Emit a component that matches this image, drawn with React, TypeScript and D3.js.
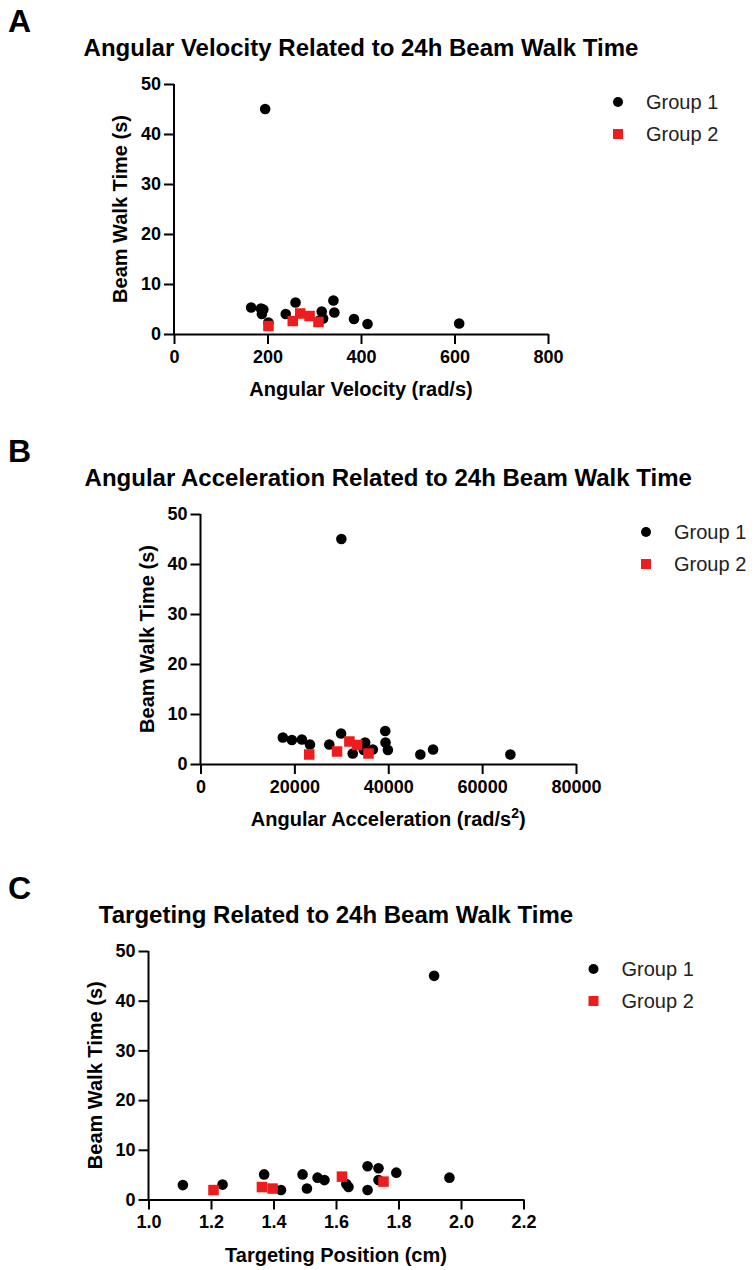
import React, { useEffect, useRef } from "react";
import * as d3 from "d3";

// ---------- data ----------
const seriesNames = ["Group 1", "Group 2"];
const yTicks = [0, 10, 20, 30, 40, 50];

// Panel A: Angular Velocity
const velTicks = [0, 200, 400, 600, 800];
const velGroup1X = [165, 186, 191, 188, 202, 239, 260, 316, 319, 311, 341, 343, 385, 414, 610, 195];
const velGroup1Y = [5.3, 5.1, 4.9, 4.0, 2.3, 4.0, 6.3, 4.5, 3.1, 2.7, 6.7, 4.3, 3.0, 2.0, 2.1, 45];
const velGroup2X = [202, 254, 270, 290, 309];
const velGroup2Y = [1.6, 2.6, 4.1, 3.6, 2.4];

// Panel B: Angular Acceleration
const accTicks = [0, 20000, 40000, 60000, 80000];
const accGroup1X = [17540, 19470, 21600, 23320, 27440, 29950, 32430, 35080, 34790, 36710, 39360, 39420, 39920, 46840, 49550, 66020, 30010];
const accGroup1Y = [5.3, 4.8, 4.9, 3.9, 3.9, 6.1, 2.1, 4.3, 2.8, 2.9, 6.6, 4.3, 2.8, 1.9, 2.9, 1.9, 45];
const accGroup2X = [23170, 29090, 31720, 33370, 35790];
const accGroup2Y = [1.9, 2.5, 4.5, 3.8, 2.1];

// Panel C: Targeting Position
const posTicks = [1.0, 1.2, 1.4, 1.6, 1.8, 2.0, 2.2];
const posGroup1X = [1.11, 1.237, 1.37, 1.424, 1.493, 1.507, 1.541, 1.563, 1.633, 1.64, 1.701, 1.701, 1.736, 1.736, 1.793, 1.963, 1.914];
const posGroup1Y = [2.9, 3.0, 5.05, 1.9, 5.05, 2.2, 4.4, 3.9, 3.1, 2.5, 6.7, 1.9, 6.3, 3.9, 5.4, 4.4, 45];
const posGroup2X = [1.208, 1.363, 1.397, 1.619, 1.752];
const posGroup2Y = [1.9, 2.5, 2.2, 4.6, 3.6];

const panels = [
  {
    letter: "A",
    title: "Angular Velocity Related to 24h Beam Walk Time",
    xLabel: "Angular Velocity (rad/s)",
    xTicks: velTicks,
    fmt: (d: number) => String(d),
    g1x: velGroup1X, g1y: velGroup1Y, g2x: velGroup2X, g2y: velGroup2Y,
    left: 174, right: 548, top: 84, bottom: 334,
  },
  {
    letter: "B",
    title: "Angular Acceleration Related to 24h Beam Walk Time",
    xLabel: "Angular Acceleration (rad/s",
    sup: true,
    xTicks: accTicks,
    fmt: (d: number) => String(d),
    g1x: accGroup1X, g1y: accGroup1Y, g2x: accGroup2X, g2y: accGroup2Y,
    left: 200.5, right: 576, top: 514, bottom: 764,
  },
  {
    letter: "C",
    title: "Targeting Related to 24h Beam Walk Time",
    xLabel: "Targeting Position (cm)",
    xTicks: posTicks,
    fmt: d3.format(".1f"),
    g1x: posGroup1X, g1y: posGroup1Y, g2x: posGroup2X, g2y: posGroup2Y,
    left: 148.5, right: 523.5, top: 951, bottom: 1199.5,
  },
];

const FONT = "'Liberation Sans', Arial, Helvetica, sans-serif";
const RED = "#ee1c1c";

export default function App() {
  const ref = useRef<SVGSVGElement>(null);

  useEffect(() => {
    const svg = d3.select(ref.current);
    svg.selectAll("*").remove();

    panels.forEach((p) => {
      const xs = d3.scaleLinear()
        .domain([p.xTicks[0], p.xTicks[p.xTicks.length - 1]])
        .range([p.left, p.right]);
      const ys = d3.scaleLinear().domain([0, 50]).range([p.bottom, p.top]);
      const g = svg.append("g");

      // panel letter
      g.append("text")
        .attr("x", 8)
        .attr("y", p.top - 52)
        .attr("font-family", FONT)
        .attr("font-weight", "bold")
        .attr("font-size", 32)
        .text(p.letter);

      // title
      g.append("text")
        .attr("x", (p.left + p.right) / 2)
        .attr("y", p.top - 28)
        .attr("text-anchor", "middle")
        .attr("font-family", FONT)
        .attr("font-weight", "bold")
        .attr("font-size", 24)
        .text(p.title);

      // axes
      const xAxis = d3.axisBottom(xs)
        .tickValues(p.xTicks)
        .tickFormat(p.fmt as any)
        .tickSize(10)
        .tickSizeOuter(0)
        .tickPadding(6);
      const yAxis = d3.axisLeft(ys)
        .tickValues(yTicks)
        .tickSize(10)
        .tickSizeOuter(0)
        .tickPadding(3);

      const gx = g.append("g").attr("transform", `translate(0,${p.bottom})`).call(xAxis);
      const gy = g.append("g").attr("transform", `translate(${p.left},0)`).call(yAxis);
      [gx, gy].forEach((ax) => {
        ax.selectAll("path").attr("stroke", "#000").attr("stroke-width", 2);
        ax.selectAll("line").attr("stroke", "#000").attr("stroke-width", 2);
        ax.selectAll("text")
          .attr("font-family", FONT)
          .attr("font-weight", "bold")
          .attr("font-size", 18)
          .attr("fill", "#000");
      });
      gy.selectAll("path").attr("d", `M0,${p.bottom + 1}V${p.top}`);

      // x label
      const xl = g.append("text")
        .attr("x", (p.left + p.right) / 2)
        .attr("y", p.bottom + 62)
        .attr("text-anchor", "middle")
        .attr("font-family", FONT)
        .attr("font-weight", "bold")
        .attr("font-size", 20);
      if ((p as any).sup) {
        xl.append("tspan").text(p.xLabel);
        xl.append("tspan").attr("dy", -8).attr("font-size", 14).text("2");
        xl.append("tspan").attr("dy", 8).text(")");
      } else {
        xl.text(p.xLabel);
      }

      // y label
      g.append("text")
        .attr("transform", `translate(${p.left - 47},${(p.top + p.bottom) / 2}) rotate(-90)`)
        .attr("text-anchor", "middle")
        .attr("font-family", FONT)
        .attr("font-weight", "bold")
        .attr("font-size", 20)
        .text("Beam Walk Time (s)");

      // points
      const d1 = p.g1x.map((x, i) => ({ x, y: p.g1y[i] }));
      const d2 = p.g2x.map((x, i) => ({ x, y: p.g2y[i] }));
      g.append("g").selectAll("circle").data(d1).enter().append("circle")
        .attr("cx", (d) => xs(d.x))
        .attr("cy", (d) => ys(d.y))
        .attr("r", 5.3)
        .attr("fill", "#000");
      const s = 10.5;
      g.append("g").selectAll("rect").data(d2).enter().append("rect")
        .attr("x", (d) => xs(d.x) - s / 2)
        .attr("y", (d) => ys(d.y) - s / 2)
        .attr("width", s)
        .attr("height", s)
        .attr("fill", RED);

      // legend
      const lx = p.right + 70;
      const ly = p.top + 18;
      const lg = g.append("g");
      seriesNames.forEach((name, i) => {
        const cy = ly + i * 32;
        if (i === 0) {
          lg.append("circle").attr("cx", lx).attr("cy", cy).attr("r", 5).attr("fill", "#000");
        } else {
          lg.append("rect").attr("x", lx - 5).attr("y", cy - 5).attr("width", 10).attr("height", 10).attr("fill", RED);
        }
        lg.append("text")
          .attr("x", lx + 28)
          .attr("y", cy)
          .attr("dy", "0.35em")
          .attr("font-family", FONT)
          .attr("font-size", 20)
          .attr("fill", "#222")
          .text(name);
      });
    });
  }, []);

  return (
    <svg
      ref={ref}
      width={754}
      height={1270}
      style={{ position: "absolute", left: 0, top: 0, background: "#fff" }}
    />
  );
}
